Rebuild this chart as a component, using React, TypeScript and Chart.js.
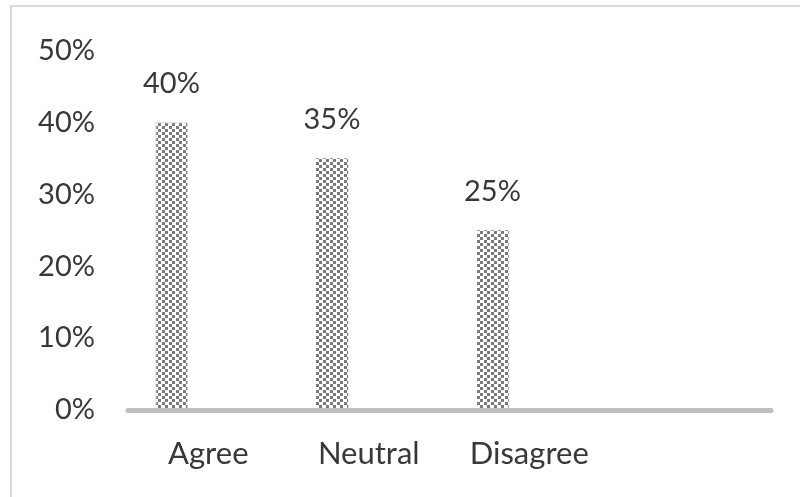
import React, { useEffect, useRef } from "react";
import { Chart, registerables } from "chart.js";

Chart.register(...registerables);

const categories: string[] = ["Agree", "Neutral", "Disagree", ""];
const responseValues: (number | null)[] = [40, 35, 25, null];
const emptySeries: (number | null)[] = [null, null, null, null];
const yTicks: number[] = [0, 10, 20, 30, 40, 50];

const FONT = "Lato, 'Open Sans', sans-serif";
const TEXT = "#383838";

function makePattern(): CanvasPattern | string {
  const c = document.createElement("canvas");
  c.width = 7;
  c.height = 6;
  const g = c.getContext("2d");
  if (!g) return "#a0a0a0";
  g.fillStyle = "#ffffff";
  g.fillRect(0, 0, 7, 6);
  g.fillStyle = "#7a7a7a";
  g.fillRect(1, 0, 3, 3);
  g.fillRect(4, 3, 3, 3);
  const p = g.createPattern(c, "repeat");
  return p || "#a0a0a0";
}

const framePlugin = {
  id: "frame",
  beforeDraw(chart: any) {
    const ctx = chart.ctx;
    ctx.save();
    ctx.fillStyle = "#ffffff";
    ctx.fillRect(0, 0, chart.width, chart.height);
    ctx.fillStyle = "#d9d9d9";
    ctx.fillRect(10, 5, 2, chart.height - 5);
    ctx.fillRect(10, 5, chart.width - 10, 2);
    ctx.restore();
  },
};

const axisLinePlugin = {
  id: "axisLine",
  afterDatasetsDraw(chart: any) {
    const { ctx, chartArea } = chart;
    const y = chart.scales.y.getPixelForValue(0) + 0.5;
    ctx.save();
    ctx.strokeStyle = "#bfbfbf";
    ctx.lineWidth = 5;
    ctx.lineCap = "round";
    ctx.beginPath();
    ctx.moveTo(chartArea.left, y);
    ctx.lineTo(chartArea.right + 1, y);
    ctx.stroke();
    ctx.restore();
  },
};

const labelPlugin = {
  id: "valueLabels",
  afterDraw(chart: any) {
    const { ctx } = chart;
    const meta = chart.getDatasetMeta(0);
    ctx.save();
    ctx.font = `29px ${FONT}`;
    ctx.fillStyle = TEXT;
    ctx.textAlign = "center";
    ctx.textBaseline = "middle";
    meta.data.forEach((bar: any, i: number) => {
      const v = responseValues[i];
      if (v == null) return;
      ctx.fillText(`${v}%`, bar.x, bar.y - 39);
    });
    ctx.restore();
  },
};

export default function App() {
  const ref = useRef<HTMLCanvasElement | null>(null);

  useEffect(() => {
    if (!ref.current) return;
    const pattern = makePattern();
    const chart = new Chart(ref.current, {
      type: "bar",
      data: {
        labels: categories,
        datasets: [
          {
            data: responseValues,
            backgroundColor: pattern as any,
            borderColor: "#c8c8c8",
            borderWidth: (c: any) =>
              c.dataIndex === 0 ? { top: 1, left: 1, right: 0, bottom: 0 } : 0,
            borderSkipped: false,
            categoryPercentage: 0.916,
            barPercentage: 0.44,
          },
          {
            data: emptySeries,
            backgroundColor: "rgba(0,0,0,0)",
            categoryPercentage: 0.916,
            barPercentage: 0.44,
          },
        ],
      },
      options: {
        responsive: false,
        animation: false,
        layout: { padding: { left: 0, right: 30, top: 50, bottom: 0 } },
        plugins: {
          legend: { display: false },
          tooltip: { enabled: false },
          title: { display: false },
        },
        scales: {
          x: {
            grid: { display: false, drawTicks: false },
            border: { display: false },
            ticks: {
              color: TEXT,
              font: { family: FONT, size: 31 },
              padding: 25,
              maxRotation: 0,
              autoSkip: false,
            },
            afterFit: (s: any) => {
              s.height = 87;
            },
          },
          y: {
            min: 0,
            max: 50,
            afterBuildTicks: (s: any) => {
              s.ticks = yTicks.map((v) => ({ value: v }));
            },
            grid: { display: false, drawTicks: false },
            border: { display: false },
            ticks: {
              color: TEXT,
              font: { family: FONT, size: 29 },
              padding: 33,
              callback: (v: any) => `${v}%`,
            },
            afterFit: (s: any) => {
              s.width = 128;
            },
          },
        },
      },
      plugins: [framePlugin, axisLinePlugin, labelPlugin],
    });
    return () => chart.destroy();
  }, []);

  return (
    <div style={{ position: "fixed", left: 0, top: 0, width: 800, height: 497, background: "#fff" }}>
      <canvas ref={ref} width={800} height={497} style={{ display: "block", width: 800, height: 497 }} />
    </div>
  );
}
